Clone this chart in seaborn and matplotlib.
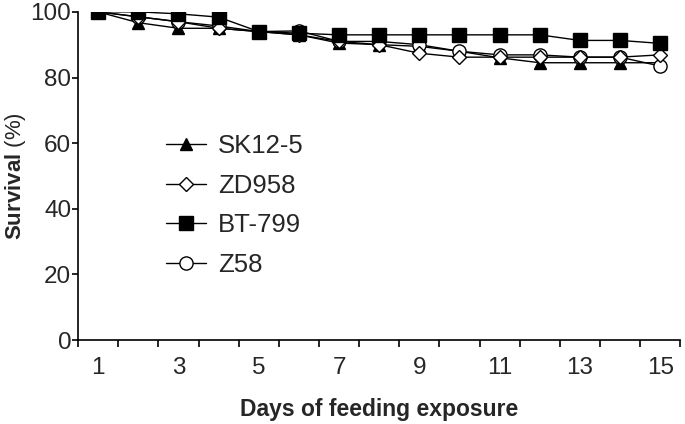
import numpy as np
import pandas as pd
import matplotlib
matplotlib.use("Agg")
import matplotlib.pyplot as plt
import seaborn as sns

days = list(range(1, 16))
strains = ["SK12-5", "ZD958", "BT-799", "Z58"]

sk12_5 = [100, 96.7, 95, 95, 94, 93, 90.5, 90, 89.5, 88, 86, 84.5, 84.5, 84.5, 84.5]
zd958 = [100, 98.5, 97, 95, 94, 93, 91, 90, 87.4, 86.2, 86.2, 86.2, 86.2, 86.2, 86.9]
bt799 = [100, 100, 99.4, 98.4, 94, 93.5, 93, 93, 93, 93, 93, 93, 91.3, 91.3, 90.4]
z58 = [100, 98.5, 97, 95.7, 94, 94.2, 91, 91, 90, 88, 86.9, 86.9, 86.2, 86.2, 83.5]

df = pd.DataFrame({
    "day": days * 4,
    "survival": sk12_5 + zd958 + bt799 + z58,
    "strain": np.repeat(strains, len(days)),
})

sns.set_style("ticks")
plt.rcParams["font.family"] = ["Liberation Sans", "DejaVu Sans"]
plt.rcParams["mathtext.fontset"] = "custom"
plt.rcParams["mathtext.bf"] = "Liberation Sans:bold"
plt.rcParams["mathtext.rm"] = "Liberation Sans"

fig = plt.figure(figsize=(6.85, 4.24), dpi=100)
ax = fig.add_axes([0.114, 0.198, 0.879, 0.774])

# marker, face colour, size, draw order
styles = {
    "SK12-5": ("^", "black", 9, 2),
    "ZD958": ("D", "white", 7, 4),
    "BT-799": ("s", "black", 9.5, 5),
    "Z58": ("o", "white", 9.5, 3),
}

for s in strains:
    m, fc, ms, z = styles[s]
    sns.lineplot(data=df[df["strain"] == s], x="day", y="survival", ax=ax,
                 color="black", lw=1, marker=m, markersize=ms,
                 markerfacecolor=fc, markeredgecolor="black", markeredgewidth=1,
                 label=s, zorder=z)

ax.set_xlim(0.5, 15.5)
ax.set_ylim(0, 100)
ax.set_xticks(range(1, 16, 2))
ax.set_xticks(np.arange(0.5, 16, 1), minor=True)
ax.tick_params(axis="x", which="major", length=0, labelsize=17.5, pad=12)
ax.tick_params(axis="x", which="minor", length=5, width=1.2, color="black")
ax.set_yticks(range(0, 101, 20))
ax.tick_params(axis="y", length=4, width=1.2, color="black", labelsize=17.5, pad=1)

for sp in ["top", "right"]:
    ax.spines[sp].set_visible(False)
for sp in ["left", "bottom"]:
    ax.spines[sp].set_color("black")
    ax.spines[sp].set_linewidth(1.2)

ax.set_xlabel("Days of feeding exposure", fontsize=16.5, fontweight="bold", labelpad=14)
ax.set_ylabel(r"$\bf{Survival}$ (%)", fontsize=16)
ax.yaxis.set_label_coords(-0.084, 0.5)

ax.legend(loc="center left", bbox_to_anchor=(0.108, 0.41), frameon=False,
          fontsize=18.5, handlelength=1.55, handletextpad=0.45, labelspacing=0.6)

fig.savefig("out.png", dpi=100)
